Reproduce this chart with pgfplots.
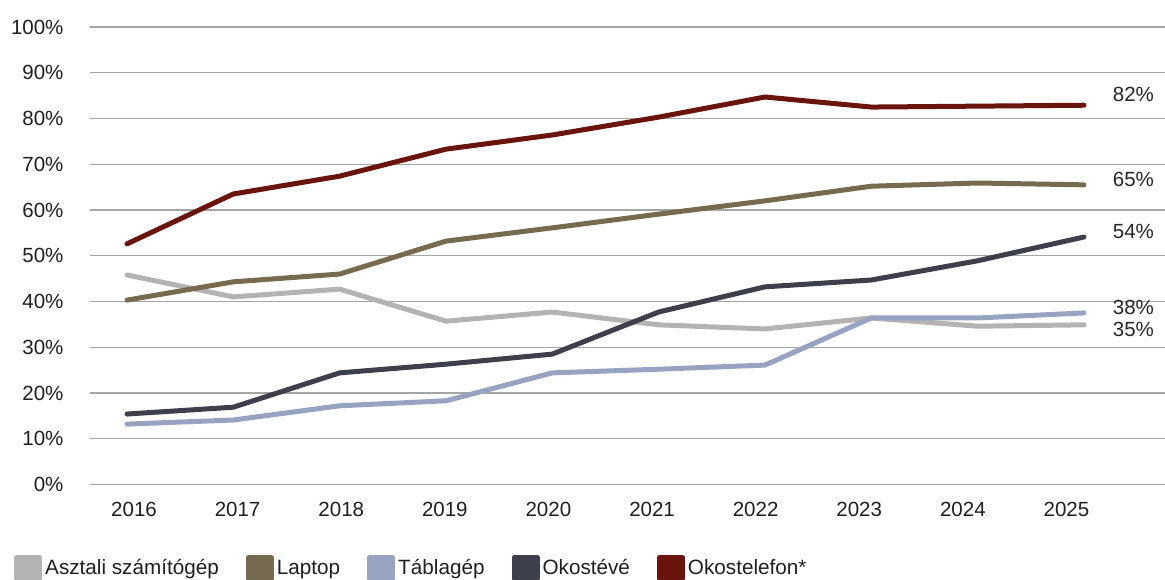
\documentclass[border=0pt]{standalone}
\usepackage{pgfplots}
\pgfplotsset{compat=1.18}
\usepackage{fontspec}
\setmainfont{Liberation Sans}
\definecolor{cAszt}{RGB}{179,179,179}
\definecolor{cLap}{RGB}{118,107,79}
\definecolor{cTab}{RGB}{152,162,193}
\definecolor{cTv}{RGB}{61,64,74}
\definecolor{cTel}{RGB}{106,20,14}
\definecolor{cGrid}{RGB}{165,165,165}
\begin{document}
\begin{tikzpicture}
\useasboundingbox (-90pt,-94.5pt) rectangle (1075pt,484.5pt);
\begin{axis}[
  scale only axis,
  width=1075pt, height=457.5pt,
  xmin=2015.652, xmax=2025.762,
  ymin=0, ymax=100,
  axis line style={draw=none},
  major tick length=0pt,
  xtick={2016.066,2017.040,2018.015,2018.989,2019.963,2020.938,2021.912,2022.886,2023.861,2024.835},
  xticklabels={2016,2017,2018,2019,2020,2021,2022,2023,2024,2025},
  xticklabel style={yshift=-14pt},
  ytick={0,10,...,100},
  yticklabel={\pgfmathprintnumber{\tick}\%},
  yticklabel style={xshift=-23pt},
  ymajorgrids,
  grid style={cGrid, line width=1.2pt},
  tick label style={font=\fontsize{20.5}{24}\selectfont, text=black!88},
  /pgf/number format/assume math mode=true,
  clip=false,
  every axis plot/.append style={line width=5pt, line cap=round, line join=round},
  legend style={at={(-0.0707,-0.1825)}, anchor=west, draw=none, fill=none,
    font=\fontsize{20.7}{24}\selectfont, legend columns=-1,
    nodes={inner sep=0pt, text=black!88},
    /tikz/every odd column/.append style={column sep=3pt},
    /tikz/every even column/.append style={column sep=27pt},
    inner sep=0pt},
  legend image code/.code={\fill[#1] (0pt,-10.5pt) rectangle (23pt,10.5pt);},
]
\addplot[cAszt] coordinates {(2016,45.8)(2017,41.0)(2018,42.7)(2019,35.7)(2020,37.7)(2021,34.9)(2022,34.0)(2023,36.4)(2024,34.6)(2025,34.9)};
\addlegendentry{Asztali számítógép}
\addplot[cLap] coordinates {(2016,40.3)(2017,44.3)(2018,46.0)(2019,53.2)(2020,56.1)(2021,59.1)(2022,62.0)(2023,65.2)(2024,65.9)(2025,65.5)};
\addlegendentry{Laptop}
\addplot[cTab] coordinates {(2016,13.2)(2017,14.1)(2018,17.2)(2019,18.3)(2020,24.4)(2021,25.2)(2022,26.1)(2023,36.4)(2024,36.4)(2025,37.5)};
\addlegendentry{Táblagép}
\addplot[cTv] coordinates {(2016,15.4)(2017,16.9)(2018,24.4)(2019,26.3)(2020,28.5)(2021,37.7)(2022,43.2)(2023,44.7)(2024,48.9)(2025,54.1)};
\addlegendentry{Okostévé}
\addplot[cTel] coordinates {(2016,52.6)(2017,63.5)(2018,67.4)(2019,73.3)(2020,76.4)(2021,80.3)(2022,84.7)(2023,82.5)(2024,82.7)(2025,82.9)};
\addlegendentry{Okostelefon*}
\begin{scope}[every node/.style={anchor=west, inner sep=0pt, font=\fontsize{20.5}{24}\selectfont, text=black!85}]
\node at (axis cs:2025.27,85.3) {82\%};
\node at (axis cs:2025.27,66.6) {65\%};
\node at (axis cs:2025.27,55.2) {54\%};
\node at (axis cs:2025.27,38.8) {38\%};
\node at (axis cs:2025.27,34.0) {35\%};
\end{scope}
\end{axis}
\end{tikzpicture}
\end{document}
